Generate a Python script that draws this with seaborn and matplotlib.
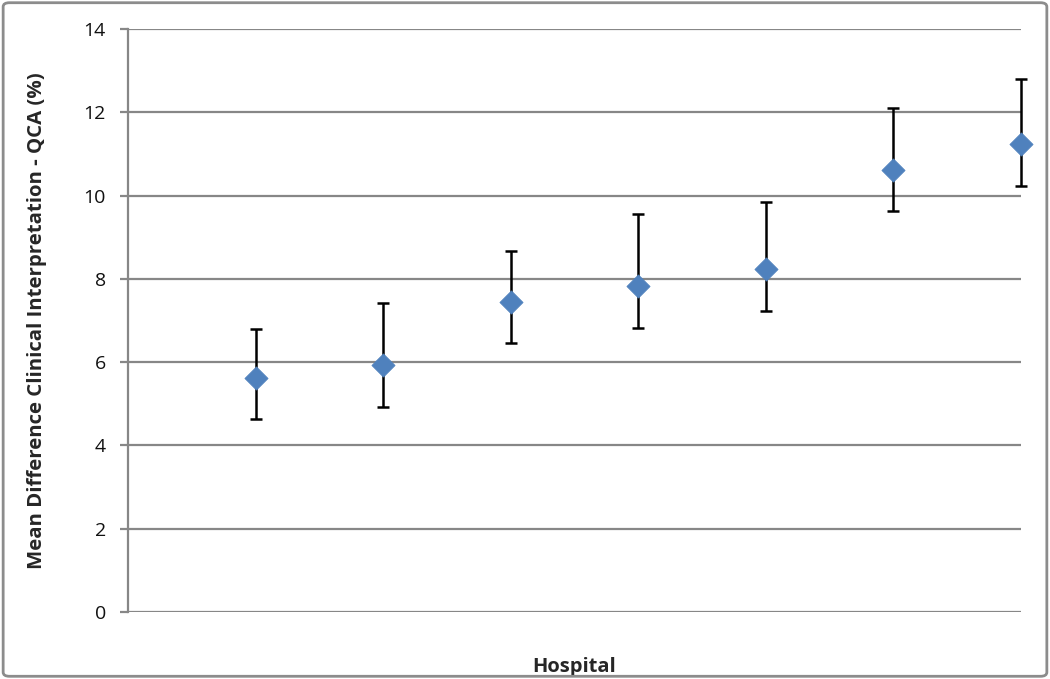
import numpy as np
import pandas as pd
import matplotlib
matplotlib.use("Agg")
import matplotlib.pyplot as plt
import seaborn as sns
from matplotlib.patches import FancyBboxPatch

# Valores
hospital = [1, 2, 3, 4, 5, 6, 7]
mean_diff = [5.63, 5.93, 7.45, 7.83, 8.23, 10.62, 11.25]
upper = [6.80, 7.42, 8.66, 9.56, 9.85, 12.10, 12.80]
lower = [4.63, 4.93, 6.45, 6.83, 7.23, 9.62, 10.24]
yticks = [0, 2, 4, 6, 8, 10, 12, 14]

df = pd.DataFrame({"Hospital": hospital, "Mean": mean_diff, "Upper": upper, "Lower": lower})

sns.set_style("white")
plt.rcParams["font.family"] = ["Open Sans", "DejaVu Sans"]

fig = plt.figure(figsize=(10.5, 6.79), dpi=100)
ax = fig.add_axes([0.1219, 0.0987, 0.8505, 0.8586])

# Barras de error asimétricas
yerr = np.array([df["Mean"] - df["Lower"], df["Upper"] - df["Mean"]])
eb = ax.errorbar(df["Hospital"], df["Mean"], yerr=yerr, fmt="none", ecolor="black",
                 elinewidth=1.8, capsize=4.5, capthick=1.8, zorder=3)
for artist in eb.lines[1] + eb.lines[2]:
    artist.set_clip_on(False)

sns.scatterplot(data=df, x="Hospital", y="Mean", marker="D", s=140, color="#4F81BD",
                edgecolor="#4F81BD", linewidth=0.5, ax=ax, zorder=4, clip_on=False)

ax.set_xlim(0, 7)
ax.set_ylim(0, 14)
ax.set_yticks(yticks)
ax.set_xticks([])
ax.yaxis.grid(True, color="#878787", linewidth=1.6)
ax.set_axisbelow(True)

for s in ["top", "right", "bottom"]:
    ax.spines[s].set_visible(False)
ax.spines["left"].set_color("#878787")
ax.spines["left"].set_linewidth(1.6)
ax.tick_params(axis="y", which="both", left=True, length=6, width=1.6, color="#878787",
               labelsize=14, pad=10, labelcolor="#111111")

ax.set_ylabel("Mean Difference Clinical Interpretation - QCA (%)", fontsize=14.7, fontweight="bold")
ax.set_xlabel("Hospital", fontsize=14.5, fontweight="bold")
ax.yaxis.set_label_coords(-0.0907, 0.5)
ax.xaxis.set_label_coords(0.5, -0.077)

# Marco exterior
frame = FancyBboxPatch((0.003, 0.004), 0.994, 0.992, boxstyle="round,pad=0,rounding_size=0.006",
                       transform=fig.transFigure, fill=False, edgecolor="#8C8C8C", linewidth=2)
fig.patches.append(frame)

fig.savefig("out.png", dpi=100)
plt.close()
